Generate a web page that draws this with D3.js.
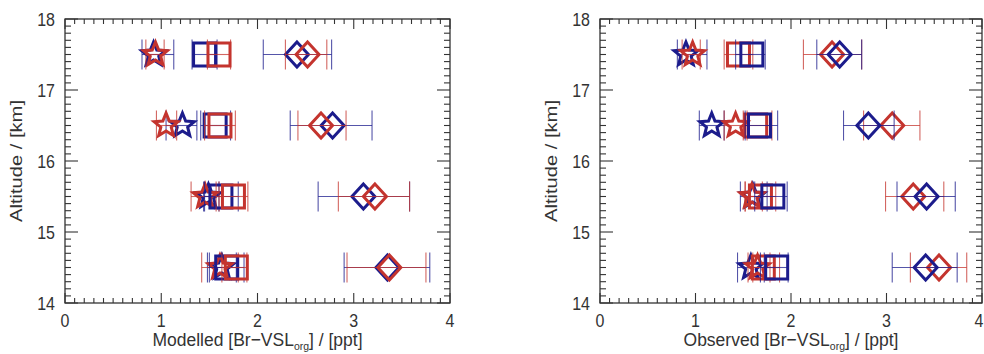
<!DOCTYPE html>
<html>
<head>
<meta charset="utf-8">
<script src="https://cdn.jsdelivr.net/npm/d3@7"></script>
<style>
  html, body { margin: 0; padding: 0; background: #fff; }
  svg { display: block; }
  text { font-family: "Liberation Sans", Arial, Helvetica, sans-serif; fill: #333; }
</style>
</head>
<body>
<svg id="chart" width="984" height="354"></svg>
<script>
// Altitude levels (km) shared by both panels
const altitudes = [17.5, 16.5, 15.5, 14.5];
const xTicks = [0, 1, 2, 3, 4];
const yTicks = [14, 15, 16, 17, 18];

// Modelled [Br-VSL_org] (ppt): value, lower and upper error limits
const modStarBlue   = [0.92, 1.22, 1.49, 1.63];
const modStarBlueLo = [0.80, 1.05, 1.44, 1.48];
const modStarBlueHi = [1.13, 1.37, 1.60, 1.78];
const modStarRed    = [0.94, 1.05, 1.455, 1.61];
const modStarRedLo  = [0.84, 0.95, 1.31, 1.42];
const modStarRedHi  = [1.03, 1.16, 1.60, 1.80];
const modSqBlue     = [1.45, 1.56, 1.62, 1.68];
const modSqBlueLo   = [1.32, 1.41, 1.45, 1.50];
const modSqBlueHi   = [1.58, 1.72, 1.80, 1.86];
const modSqRed      = [1.60, 1.61, 1.75, 1.78];
const modSqRedLo    = [1.48, 1.45, 1.57, 1.63];
const modSqRedHi    = [1.72, 1.77, 1.90, 1.89];
const modDiaBlue    = [2.41, 2.78, 3.10, 3.35];
const modDiaBlueLo  = [2.06, 2.34, 2.63, 2.90];
const modDiaBlueHi  = [2.77, 3.19, 3.58, 3.79];
const modDiaRed     = [2.52, 2.66, 3.22, 3.37];
const modDiaRedLo   = [2.29, 2.42, 2.84, 2.93];
const modDiaRedHi   = [2.72, 2.92, 3.58, 3.75];

// Observed [Br-VSL_org] (ppt): value, lower and upper error limits
const obsStarBlue   = [0.90, 1.17, 1.60, 1.58];
const obsStarBlueLo = [0.81, 1.04, 1.47, 1.44];
const obsStarBlueHi = [1.12, 1.30, 1.75, 1.72];
const obsStarRed    = [0.97, 1.42, 1.59, 1.65];
const obsStarRedLo  = [0.86, 1.30, 1.52, 1.55];
const obsStarRedHi  = [1.05, 1.54, 1.70, 1.78];
const obsSqBlue     = [1.59, 1.67, 1.81, 1.85];
const obsSqBlueLo   = [1.42, 1.52, 1.62, 1.68];
const obsSqBlueHi   = [1.73, 1.86, 1.96, 1.97];
const obsSqRed      = [1.45, 1.63, 1.68, 1.71];
const obsSqRedLo    = [1.30, 1.50, 1.52, 1.60];
const obsSqRedHi    = [1.60, 1.80, 1.84, 1.88];
const obsDiaBlue    = [2.51, 2.81, 3.42, 3.41];
const obsDiaBlueLo  = [2.27, 2.55, 3.11, 3.06];
const obsDiaBlueHi  = [2.74, 3.08, 3.72, 3.74];
const obsDiaRed     = [2.43, 3.06, 3.28, 3.55];
const obsDiaRedLo   = [2.13, 2.76, 2.99, 3.25];
const obsDiaRedHi   = [2.74, 3.35, 3.60, 3.84];

const BLUE = "#1c1c8c";
const RED = "#c4342e";

function series(shape, color, v, lo, hi) {
  return { shape, color, rows: altitudes.map((a, i) => ({ alt: a, v: v[i], lo: lo[i], hi: hi[i] })) };
}

const panels = [
  {
    x0: 65, x1: 450, title: "Modelled",
    series: [
      series("star", BLUE, modStarBlue, modStarBlueLo, modStarBlueHi),
      series("star", RED, modStarRed, modStarRedLo, modStarRedHi),
      series("square", BLUE, modSqBlue, modSqBlueLo, modSqBlueHi),
      series("square", RED, modSqRed, modSqRedLo, modSqRedHi),
      series("diamond", BLUE, modDiaBlue, modDiaBlueLo, modDiaBlueHi),
      series("diamond", RED, modDiaRed, modDiaRedLo, modDiaRedHi)
    ]
  },
  {
    x0: 600, x1: 982, title: "Observed",
    series: [
      series("star", BLUE, obsStarBlue, obsStarBlueLo, obsStarBlueHi),
      series("star", RED, obsStarRed, obsStarRedLo, obsStarRedHi),
      series("square", RED, obsSqRed, obsSqRedLo, obsSqRedHi),
      series("square", BLUE, obsSqBlue, obsSqBlueLo, obsSqBlueHi),
      series("diamond", RED, obsDiaRed, obsDiaRedLo, obsDiaRedHi),
      series("diamond", BLUE, obsDiaBlue, obsDiaBlueLo, obsDiaBlueHi)
    ]
  }
];

const Y_TOP = 19, Y_BOT = 303;
const W = 984;
const svg = d3.select("#chart");

// Marker outlines, centred on the origin
function starPath(R, r) {
  const p = d3.path();
  for (let k = 0; k < 10; k++) {
    const rad = k % 2 === 0 ? R : r;
    const ang = -Math.PI / 2 + k * Math.PI / 5;
    const px = rad * Math.cos(ang), py = rad * Math.sin(ang);
    if (k === 0) p.moveTo(px, py); else p.lineTo(px, py);
  }
  p.closePath();
  return p.toString();
}
const shapes = {
  star: starPath(12.5, 5.5),
  square: "M-11,-11.5H11V11.5H-11Z",
  diamond: "M0,-12.5L11.5,0L0,12.5L-11.5,0Z"
};

panels.forEach(P => {
  const x = d3.scaleLinear().domain([0, 4]).range([P.x0, P.x1]);
  const y = d3.scaleLinear().domain([14, 18]).range([Y_BOT, Y_TOP]);
  const g = svg.append("g");

  // Frame
  g.append("rect")
    .attr("x", P.x0).attr("y", Y_TOP)
    .attr("width", P.x1 - P.x0).attr("height", Y_BOT - Y_TOP)
    .attr("fill", "none").attr("stroke", "#333").attr("stroke-width", 1.3);

  // Inward ticks on all four sides (major every unit, minor every tenth)
  const xMinor = d3.range(0, 40.5).map(d => d / 10);
  const yMinor = d3.range(140, 180.5).map(d => d / 10);
  const tickG = g.append("g").attr("stroke", "#333").attr("stroke-width", 1.1);
  xMinor.forEach(t => {
    const major = Math.abs(t - Math.round(t)) < 1e-6;
    const len = major ? 10 : 5;
    tickG.append("line").attr("x1", x(t)).attr("x2", x(t)).attr("y1", Y_BOT).attr("y2", Y_BOT - len);
    tickG.append("line").attr("x1", x(t)).attr("x2", x(t)).attr("y1", Y_TOP).attr("y2", Y_TOP + len);
  });
  yMinor.forEach(t => {
    const major = Math.abs(t - Math.round(t)) < 1e-6;
    const len = major ? 13 : 6;
    tickG.append("line").attr("x1", P.x0).attr("x2", P.x0 + len).attr("y1", y(t)).attr("y2", y(t));
    tickG.append("line").attr("x1", P.x1).attr("x2", P.x1 - len).attr("y1", y(t)).attr("y2", y(t));
  });

  // Tick labels (slightly tall glyphs); the last x label is kept inside the page
  g.selectAll(".xl").data(xTicks).enter().append("text")
    .attr("transform", d => {
      const px = Math.min(x(d), W - 5);
      return `translate(${px},${Y_BOT + 24}) scale(1,1.12)`;
    })
    .attr("text-anchor", "middle").attr("font-size", 16).text(d => d);
  g.selectAll(".yl").data(yTicks).enter().append("text")
    .attr("transform", d => `translate(${P.x0 - 10},${y(d) + 6.5}) scale(1,1.12)`)
    .attr("text-anchor", "end").attr("font-size", 16).text(d => d);

  // Axis titles
  const xt = g.append("text")
    .attr("transform", `translate(${x(2)},346) scale(1,1.08)`)
    .attr("text-anchor", "middle").attr("font-size", 17.5);
  xt.append("tspan").text(P.title + " [Br\u2212VSL");
  xt.append("tspan").attr("font-size", 10.5).attr("dy", 4).text("org");
  xt.append("tspan").attr("dy", -4).text("] / [ppt]");

  g.append("text")
    .attr("transform", `translate(${P.x0 - 43},${(Y_TOP + Y_BOT) / 2}) rotate(-90)`)
    .attr("text-anchor", "middle").attr("font-size", 17)
    .attr("textLength", 122).attr("lengthAdjust", "spacingAndGlyphs")
    .text("Altitude / [km]");

  // Error bars and markers
  P.series.forEach(S => {
    const sg = g.append("g");
    const eg = sg.append("g").attr("stroke", S.color).attr("stroke-opacity", 0.75).attr("stroke-width", 1.1);
    S.rows.forEach(r => {
      const cy = y(r.alt);
      eg.append("line").attr("x1", x(r.lo)).attr("x2", x(r.hi)).attr("y1", cy).attr("y2", cy);
      [r.lo, r.hi].forEach(e => {
        eg.append("line").attr("x1", x(e)).attr("x2", x(e)).attr("y1", cy - 15).attr("y2", cy + 15);
      });
    });
    sg.selectAll("path.m").data(S.rows).enter().append("path")
      .attr("d", shapes[S.shape])
      .attr("transform", r => `translate(${x(r.v)},${y(r.alt)})`)
      .attr("fill", "none").attr("stroke", S.color)
      .attr("stroke-width", 3).attr("stroke-linejoin", "miter");
  });
});
</script>
</body>
</html>
